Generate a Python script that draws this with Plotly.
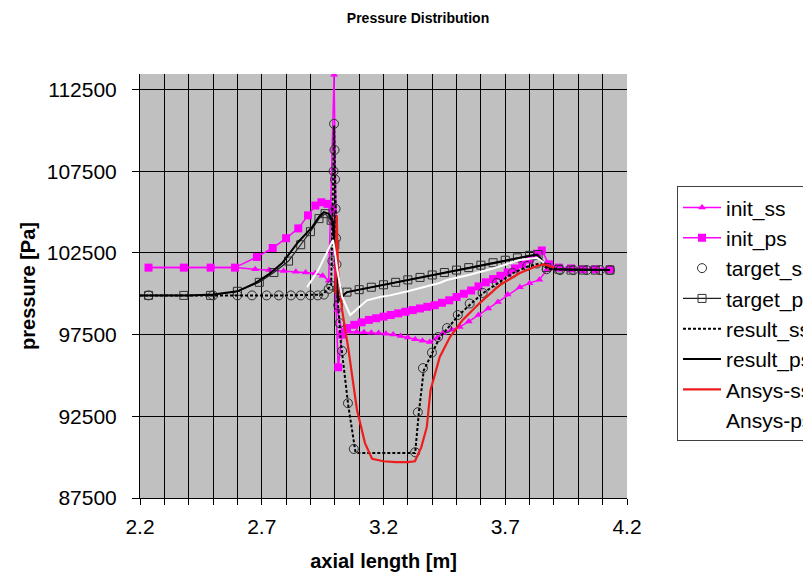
import plotly.graph_objects as go

# ---------------- data ----------------
init_ss_x = [2.235, 2.38, 2.49, 2.59, 2.673, 2.73, 2.79, 2.84, 2.88, 2.92, 2.95, 2.975, 2.997,
             3.01, 3.03, 3.06, 3.09, 3.12, 3.15, 3.18, 3.21, 3.24, 3.27, 3.3, 3.33, 3.36, 3.39,
             3.42, 3.444, 3.48, 3.513, 3.55, 3.59, 3.63, 3.67, 3.71, 3.76, 3.8, 3.84, 3.87,
             3.9, 3.95, 4.0, 4.05, 4.1, 4.13]
init_ss_y = [101600, 101600, 101600, 101600, 101500, 101450, 101400, 101350, 101300, 101250, 101100, 100800, 113400,
             99000, 97700, 97680, 97660, 97640, 97620, 97600, 97560, 97500, 97420, 97330, 97220, 97120, 97050,
             97300, 97600, 97800, 97970, 98300, 98700, 99100, 99500, 99950, 100400, 100650, 100850, 101450,
             101550, 101500, 101500, 101500, 101500, 101500]

init_ps_x = [2.235, 2.38, 2.49, 2.59, 2.68, 2.745, 2.8, 2.85, 2.89, 2.92, 2.945, 2.97, 2.99, 3.014,
             3.03, 3.05, 3.08, 3.11, 3.14, 3.17, 3.2, 3.23, 3.26, 3.29, 3.32, 3.35, 3.38, 3.41, 3.44,
             3.47, 3.5, 3.53, 3.56, 3.59, 3.62, 3.65, 3.68, 3.71, 3.74, 3.77, 3.8, 3.83, 3.85, 3.88,
             3.92, 3.97, 4.02, 4.07, 4.13]
init_ps_y = [101600, 101600, 101600, 101600, 102250, 102800, 103400, 104000, 104800, 105400, 105600, 105500, 105200, 95500,
             97500, 97900, 98100, 98250, 98400, 98500, 98600, 98700, 98800, 98900, 99000, 99100, 99200, 99300, 99450,
             99600, 99800, 100000, 100200, 100450, 100700, 100900, 101100, 101300, 101550, 101800, 102100, 102450, 102650, 101800,
             101600, 101550, 101500, 101500, 101500]

target_ss_x = [2.235, 2.5, 2.6, 2.66, 2.72, 2.77, 2.82, 2.86, 2.9, 2.93, 2.955, 2.975, 2.985, 2.99, 2.993,
               2.995, 2.997, 2.999, 3.001, 3.003, 3.005, 3.007, 3.01, 3.014, 3.02, 3.03, 3.054, 3.078,
               3.33, 3.341, 3.362, 3.399, 3.424, 3.461, 3.505, 3.554, 3.607, 3.665, 3.73, 3.79, 3.83,
               3.87, 3.925, 3.98, 4.035, 4.09, 4.13]
target_ss_y = [99900, 99900, 99900, 99900, 99900, 99900, 99900, 99900, 99900, 99900, 99950, 100300, 100500, 102000, 104500,
               107500, 110400, 108800, 107000, 105200, 103400, 101800, 100300, 99300, 98200, 96500, 93300, 90500,
               90300, 92750, 95450, 96400, 97350, 97900, 98700, 99400, 100050, 100660, 101270, 101700, 101850,
               101500, 101450, 101450, 101450, 101450, 101450]

target_ps_x = [2.235, 2.38, 2.49, 2.6, 2.69, 2.75, 2.81, 2.86, 2.9, 2.935, 2.96, 2.985, 3.0, 3.015,
               3.05, 3.1, 3.15, 3.2, 3.25, 3.3, 3.35, 3.4, 3.45, 3.5, 3.55, 3.6, 3.65, 3.7, 3.75, 3.8,
               3.835, 3.87, 3.92, 3.97, 4.02, 4.07, 4.13]
target_ps_y = [99900, 99900, 99900, 100150, 100700, 101300, 102000, 103000, 103800, 104600, 104900, 104500, 103000, 99800,
               100100, 100250, 100400, 100550, 100700, 100850, 101000, 101150, 101300, 101450, 101600, 101750, 101900, 102050, 102200, 102350,
               102400, 101600, 101500, 101450, 101450, 101450, 101450]

result_ss_x = [2.2, 2.5, 2.8, 2.95, 2.985, 2.997, 3.01, 3.025, 3.055, 3.085, 3.1, 3.33, 3.345, 3.365,
               3.4, 3.43, 3.47, 3.51, 3.56, 3.61, 3.67, 3.73, 3.79, 3.84, 3.88, 4.13]
result_ss_y = [99900, 99900, 99900, 99950, 100500, 110300, 100000, 97000, 93200, 90300, 90250, 90250, 92700, 95300,
               96400, 97300, 98000, 98700, 99400, 100050, 100650, 101250, 101650, 101850, 101500, 101450]

result_ps_x = [2.2, 2.4, 2.5, 2.6, 2.673, 2.73, 2.784, 2.85, 2.907, 2.935, 2.955, 2.975, 2.993, 3.013,
               3.05, 3.2, 3.4, 3.6, 3.75, 3.83, 3.87, 3.9, 4.13]
result_ps_y = [99900, 99900, 99950, 100150, 100650, 101200, 101880, 103170, 104080, 104700, 105000, 104900, 104400, 99600,
               100100, 100550, 101150, 101750, 102200, 102400, 101700, 101500, 101450]

ansys_ss_x = [3.003, 3.008, 3.013, 3.03, 3.055, 3.091, 3.124, 3.153, 3.2, 3.25, 3.3, 3.329, 3.355,
              3.378, 3.393, 3.431, 3.473, 3.525, 3.595, 3.678, 3.76, 3.83, 3.86, 3.9]
ansys_ss_y = [100000, 104800, 101500, 99000, 96700, 92900, 90860, 89900, 89750, 89700, 89700, 89750, 90600,
              91850, 94100, 96130, 97350, 98400, 99430, 100540, 101270, 101700, 101800, 101600]

ansys_ps_x = [2.886, 2.93, 2.96, 2.993, 3.01, 3.03, 3.063, 3.1, 3.132, 3.186, 3.227, 3.3, 3.43, 3.46,
              3.55, 3.65, 3.76, 3.83, 3.86]
ansys_ps_y = [100400, 101400, 102300, 103300, 101500, 99800, 98700, 99200, 99600, 99800, 99900, 100150, 100660, 100840,
              101150, 101550, 102060, 102200, 101900]

x_tick_vals = [2.2, 2.7, 3.2, 3.7, 4.2]
x_tick_text = ["2.2", "2.7", "3.2", "3.7", "4.2"]
y_tick_vals = [87500, 92500, 97500, 102500, 107500, 112500]
y_tick_text = ["87500", "92500", "97500", "102500", "107500", "112500"]

MAG = "#FF00FF"
FONT = "Liberation Sans, Arial, sans-serif"

fig = go.Figure()
fig.add_trace(go.Scatter(x=init_ss_x, y=init_ss_y, name="init_ss", mode="lines+markers",
                         line=dict(color=MAG, width=1.5),
                         marker=dict(symbol="triangle-up", size=7, color=MAG)))
fig.add_trace(go.Scatter(x=init_ps_x, y=init_ps_y, name="init_ps", mode="lines+markers",
                         line=dict(color=MAG, width=1.5),
                         marker=dict(symbol="square", size=8, color=MAG)))
fig.add_trace(go.Scatter(x=target_ss_x, y=target_ss_y, name="target_ss", mode="markers",
                         marker=dict(symbol="circle-open", size=9, color="#303030", line=dict(width=1))))
fig.add_trace(go.Scatter(x=target_ps_x, y=target_ps_y, name="target_ps", mode="lines+markers",
                         line=dict(color="#202020", width=1.2),
                         marker=dict(symbol="square-open", size=8, color="#303030", line=dict(width=1))))
fig.add_trace(go.Scatter(x=result_ss_x, y=result_ss_y, name="result_ss", mode="lines",
                         line=dict(color="black", width=2, dash="3px,2px")))
fig.add_trace(go.Scatter(x=result_ps_x, y=result_ps_y, name="result_ps", mode="lines",
                         line=dict(color="black", width=2)))
fig.add_trace(go.Scatter(x=ansys_ss_x, y=ansys_ss_y, name="Ansys-ss", mode="lines",
                         line=dict(color="#EE1C1C", width=2.2)))
fig.add_trace(go.Scatter(x=ansys_ps_x, y=ansys_ps_y, name="Ansys-ps", mode="lines",
                         line=dict(color="white", width=2)))

fig.update_layout(
    width=803, height=565,
    margin=dict(l=132, r=184, t=66, b=75, autoexpand=False),
    paper_bgcolor="white", plot_bgcolor="#C0C0C0",
    font=dict(family=FONT, size=21, color="black"),
    title=dict(text="<b>Pressure Distribution</b>", font=dict(size=14, family=FONT),
               x=410 / 803, xref="container", xanchor="center",
               y=1 - 10 / 565, yref="container", yanchor="middle"),
    showlegend=True,
    legend=dict(x=1.1027, y=0.735, xanchor="left", yanchor="top",
                bgcolor="white", bordercolor="#404040", borderwidth=1,
                font=dict(size=21, family=FONT), itemwidth=38, traceorder="normal"),
)
fig.update_xaxes(
    range=[2.2, 4.2], tickmode="array", tickvals=x_tick_vals, ticktext=x_tick_text,
    ticks="outside", ticklen=6, tickcolor="black", showline=True, linecolor="black", linewidth=1,
    showgrid=True, gridcolor="black", gridwidth=1, zeroline=False, ticklabelstandoff=4,
    minor=dict(dtick=0.1, tick0=2.2, ticks="outside", ticklen=6, tickcolor="black",
               showgrid=True, gridcolor="black", gridwidth=1),
    title=dict(text="<b>axial length [m]</b>", font=dict(size=20, family=FONT), standoff=16),
    automargin=False,
)
fig.update_yaxes(
    range=[87500, 113450], tickmode="array", tickvals=y_tick_vals, ticktext=y_tick_text,
    ticks="outside", ticklen=7, tickcolor="black", showline=True, linecolor="black", linewidth=1,
    showgrid=True, gridcolor="black", gridwidth=1, zeroline=False, ticklabelstandoff=11,
    title=dict(text="<b>pressure [Pa]</b>", font=dict(size=20, family=FONT), standoff=5),
    automargin=False,
)

fig.write_html("out.html")
